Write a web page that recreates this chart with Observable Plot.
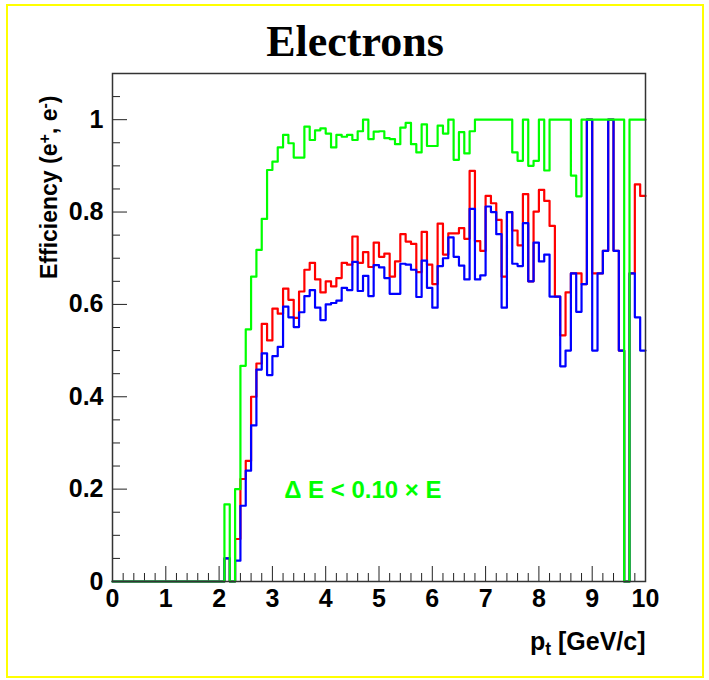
<!DOCTYPE html>
<html><head><meta charset="utf-8">
<script src="https://cdn.jsdelivr.net/npm/d3@7"></script>
<script src="https://cdn.jsdelivr.net/npm/@observablehq/plot@0.6"></script>
<style>
html,body{margin:0;padding:0;background:#fff;}
#wrap{position:relative;width:709px;height:680px;overflow:hidden;}
#border{position:absolute;left:6px;top:4px;width:698px;height:674px;border:2px solid #ffff00;box-sizing:border-box;pointer-events:none;}
#chart{position:absolute;left:0;top:0;}
</style></head><body>
<div id="wrap"><div id="chart"></div><div id="border"></div></div>
<script>
// ---- data: 100 bins of 0.1 GeV/c from 0 to 10 ----
const binWidth = 0.1;
const xMajor = [0,1,2,3,4,5,6,7,8,9,10];
const xMinor = [0.2,0.4,0.6,0.8,1.2,1.4,1.6,1.8,2.2,2.4,2.6,2.8,3.2,3.4,3.6,3.8,4.2,4.4,4.6,4.8,5.2,5.4,5.6,5.8,6.2,6.4,6.6,6.8,7.2,7.4,7.6,7.8,8.2,8.4,8.6,8.8,9.2,9.4,9.6,9.8];
const yMajor = [0,0.2,0.4,0.6,0.8,1.0];
const yTickLabels = ["0","0.2","0.4","0.6","0.8","1"];
const yMinor = [0.05,0.1,0.15,0.25,0.3,0.35,0.45,0.5,0.55,0.65,0.7,0.75,0.85,0.9,0.95,1.05];

const green = [
 0,0,0,0,0,0,0,0,0,0, 0,0,0,0,0,0,0,0,0,0,
 0,0.167,0,0.2,0.467,0.546,0.66,0.718,0.785,0.891,
 0.909,0.94,0.967,0.949,0.918,0.918,0.985,0.956,0.977,0.981,
 0.97,0.94,0.967,0.963,0.967,0.956,0.975,1.0,0.958,0.974,
 0.975,0.96,0.958,0.947,0.983,0.993,0.947,0.929,0.99,0.943,
 0.943,0.987,0.97,1.0,0.913,0.973,0.927,0.975,1.0,1.0,
 1.0,1.0,1.0,1.0,1.0,0.929,0.911,1.0,0.9,0.911,
 1.0,0.89,1.0,1.0,1.0,1.0,0.879,0.834,1.0,1.0,
 1.0,1.0,1.0,1.0,1.0,1.0,0,1.0,1.0,1.0];
const red = [
 0,0,0,0,0,0,0,0,0,0, 0,0,0,0,0,0,0,0,0,0,
 0,0.05,0,0.092,0.222,0.261,0.40,0.472,0.558,0.522,
 0.591,0.58,0.634,0.61,0.571,0.628,0.675,0.69,0.654,0.626,
 0.65,0.639,0.657,0.69,0.686,0.747,0.69,0.713,0.681,0.734,
 0.703,0.71,0.66,0.693,0.752,0.736,0.731,0.67,0.757,0.686,
 0.644,0.775,0.708,0.754,0.754,0.765,0.742,0.889,0.737,0.716,
 0.835,0.819,0.783,0.66,0.80,0.76,0.728,0.839,0.65,0.801,
 0.848,0.824,0.77,0.617,0.533,0.626,0.667,0.667,0.644,1.0,
 0.667,0.667,0.716,1.0,0.716,0.5,0,0.667,0.86,0.835];
const blue = [
 0,0,0,0,0,0,0,0,0,0, 0,0,0,0,0,0,0,0,0,0,
 0,0.05,0,0.045,0.164,0.24,0.338,0.459,0.494,0.447,
 0.488,0.508,0.595,0.572,0.551,0.583,0.618,0.631,0.593,0.566,
 0.6,0.603,0.608,0.636,0.631,0.692,0.629,0.662,0.618,0.685,
 0.68,0.657,0.623,0.623,0.688,0.686,0.675,0.616,0.695,0.636,
 0.593,0.683,0.70,0.745,0.703,0.684,0.654,0.807,0.654,0.663,
 0.812,0.8,0.752,0.593,0.80,0.688,0.683,0.776,0.65,0.734,
 0.693,0.708,0.617,0.617,0.466,0.5,0.667,0.584,0.644,1.0,
 0.5,0.667,0.716,1.0,0.716,0.5,0,0.667,0.572,0.5];

const title = "Electrons";
const xLabel = "pt [GeV/c]";
const yLabel = "Efficiency (e+, e-)";
const cutLabel = "\u0394 E < 0.10 \u00d7 E";
const cutPos = {x: 3.22, y: 0.197};

// step outline: one point per bin low edge, plus closing point at the upper edge
function steps(vals) {
  const pts = vals.map((v, i) => ({x: +(i * binWidth).toFixed(2), y: v}));
  pts.push({x: +(vals.length * binWidth).toFixed(2), y: vals[vals.length - 1]});
  return pts;
}

const W = 709, H = 680, mL = 112, mR = 64, mT = 73, mB = 99;
const pw = W - mL - mR, ph = H - mT - mB;
const sans = "'Liberation Sans Narrow', 'Liberation Sans', Arial, sans-serif";

const plot = Plot.plot({
  width: W, height: H,
  marginLeft: mL, marginRight: mR, marginTop: mT, marginBottom: mB,
  style: {background: "#fff", overflow: "visible"},
  x: {domain: [0, 10]},
  y: {domain: [0, 1.1]},
  marks: [
    Plot.ruleX(xMinor, {x: d => d, insetTop: ph - 8, stroke: "#222", strokeWidth: 1}),
    Plot.ruleX(xMajor, {x: d => d, insetTop: ph - 15, stroke: "#222", strokeWidth: 1}),
    Plot.ruleY(yMinor, {y: d => d, insetRight: pw - 8, stroke: "#222", strokeWidth: 1}),
    Plot.ruleY(yMajor, {y: d => d, insetRight: pw - 15, stroke: "#222", strokeWidth: 1}),
    Plot.line(steps(red), {x: "x", y: "y", curve: "step-after", stroke: "#ff0000", strokeWidth: 2.2}),
    Plot.line(steps(blue), {x: "x", y: "y", curve: "step-after", stroke: "#0000ff", strokeWidth: 2.2}),
    Plot.line(steps(green), {x: "x", y: "y", curve: "step-after", stroke: "#00ff00", strokeWidth: 2.2}),
    Plot.frame({stroke: "#333", strokeWidth: 1.5}),
    Plot.axisX({ticks: xMajor, tickSize: 0, tickPadding: 8, fontSize: 25, fontWeight: "bold", fontFamily: sans, fill: "#000", label: null, tickFormat: d => String(d)}),
    Plot.axisY({ticks: yMajor, tickSize: 0, tickPadding: 9, fontSize: 25, fontWeight: "bold", fontFamily: sans, fill: "#000", label: null, tickFormat: d => yTickLabels[yMajor.indexOf(d)]}),
    Plot.text([cutLabel], {x: cutPos.x, y: cutPos.y, text: d => d, textAnchor: "start", lineAnchor: "middle", fill: "#00ff00", fontSize: 24, fontWeight: "bold", fontFamily: "'Liberation Sans', Arial, sans-serif"}),
    Plot.text([title], {frameAnchor: "top", text: d => d, dx: -24, dy: -18, lineAnchor: "bottom", fontSize: 44, fontWeight: "bold", fontFamily: "'Liberation Serif', 'Times New Roman', serif", fill: "#000"}),
    Plot.text([xLabel], {frameAnchor: "bottom-right", text: d => d, dy: 68, textAnchor: "end", lineAnchor: "bottom", fontSize: 25, fontWeight: "bold", fontFamily: sans, fill: "#000"}),
    Plot.text([yLabel], {frameAnchor: "top-left", text: d => d, dx: -63, dy: 22, rotate: -90, textAnchor: "end", lineAnchor: "middle", fontSize: 23, fontWeight: "bold", fontFamily: sans, fill: "#000"})
  ]
});

// rich text: sub/superscripts as tspans
function rich(svg, raw, parts) {
  svg.querySelectorAll("text").forEach(t => {
    if (t.textContent === raw) {
      t.textContent = "";
      parts.forEach(p => {
        const ts = document.createElementNS("http://www.w3.org/2000/svg", "tspan");
        ts.textContent = p.t;
        if (p.shift) { ts.setAttribute("dy", p.shift); ts.setAttribute("font-size", "70%"); }
        if (p.back) ts.setAttribute("dy", p.back);
        t.appendChild(ts);
      });
    }
  });
}
rich(plot, xLabel, [{t: "p"}, {t: "t", shift: "0.3em"}, {t: " [GeV/c]", back: "-0.21em"}]);
rich(plot, yLabel, [{t: "Efficiency (e"}, {t: "+", shift: "-0.45em"}, {t: ", e", back: "0.315em"}, {t: "-", shift: "-0.45em"}, {t: ")", back: "0.315em"}]);

document.getElementById("chart").appendChild(plot);
</script>
</body></html>
